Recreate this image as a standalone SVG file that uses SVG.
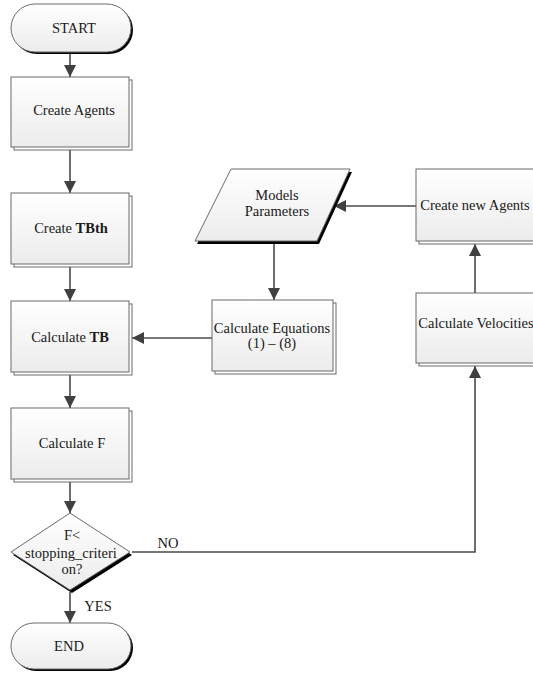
<svg xmlns="http://www.w3.org/2000/svg" width="533" height="677" viewBox="0 0 533 677">
<style>
.t{font-family:'Liberation Serif','Times New Roman','DejaVu Serif',serif;font-size:14.5px;fill:#1a1a1a;text-anchor:middle}
.b{font-weight:bold}
.box{fill:url(#g);stroke:#6a6a6a;stroke-width:1}
.back{fill:#fff;stroke:#6a6a6a;stroke-width:1}
.sh{fill:#000}
.c{fill:none;stroke:#4a4a4a;stroke-width:1.6}
</style>
<defs>
<linearGradient id="g" x1="0" y1="0" x2="0" y2="1">
<stop offset="0" stop-color="#ffffff"/>
<stop offset="1" stop-color="#ececec"/>
</linearGradient>
<marker id="a" markerUnits="userSpaceOnUse" markerWidth="12" markerHeight="12" viewBox="0 0 12 12" refX="12" refY="6" orient="auto">
<path d="M0,0 L12,6 L0,12 Z" fill="#404040"/>
</marker>
</defs>
<g id="connectors">
<line class="c" x1="70" y1="54" x2="70" y2="77" marker-end="url(#a)"/>
<line class="c" x1="70" y1="150" x2="70" y2="193" marker-end="url(#a)"/>
<line class="c" x1="70" y1="267" x2="70" y2="301" marker-end="url(#a)"/>
<line class="c" x1="70" y1="375" x2="70" y2="408" marker-end="url(#a)"/>
<line class="c" x1="70" y1="482" x2="70" y2="513" marker-end="url(#a)"/>
<line class="c" x1="70" y1="592" x2="70" y2="623" marker-end="url(#a)"/>
<polyline class="c" points="132,552 475,552 475,366" marker-end="url(#a)"/>
<line class="c" x1="475" y1="293" x2="475" y2="244" marker-end="url(#a)"/>
<line class="c" x1="416" y1="206" x2="334" y2="206" marker-end="url(#a)"/>
<line class="c" x1="274" y1="244" x2="274" y2="300" marker-end="url(#a)"/>
<line class="c" x1="212" y1="338" x2="132" y2="338" marker-end="url(#a)"/>
<text class="t" x="168" y="548" font-family="Liberation Serif, serif">NO</text>
<text class="t" x="98" y="611" font-family="Liberation Serif, serif">YES</text>
</g>
<g id="start">
<rect class="sh" x="13" y="6" width="120" height="48" rx="24"/>
<rect class="box" x="11" y="4" width="120" height="48" rx="24"/>
<text class="t" x="74" y="33">START</text>
</g>
<g id="create-agents">
<rect class="back" x="14" y="80" width="118" height="70"/>
<rect class="box" x="11" y="77" width="118" height="70"/>
<text class="t" x="74" y="115">Create Agents</text>
</g>
<g id="create-tbth">
<rect class="back" x="14" y="196" width="118" height="71"/>
<rect class="box" x="11" y="193" width="118" height="71"/>
<text class="t" x="71" y="233">Create <tspan class="b">TBth</tspan></text>
</g>
<g id="calculate-tb">
<rect class="back" x="14" y="304" width="118" height="71"/>
<rect class="box" x="11" y="301" width="118" height="71"/>
<text class="t" x="70" y="342">Calculate <tspan class="b">TB</tspan></text>
</g>
<g id="calculate-f">
<rect class="back" x="14" y="411" width="118" height="71"/>
<rect class="box" x="11" y="408" width="118" height="71"/>
<text class="t" x="72" y="448">Calculate F</text>
</g>
<g id="decision">
<polygon class="sh" points="72,516 132,555 72,593 13,555"/>
<polygon class="box" points="70,513 130,552 70,590 11,552"/>
<text class="t" x="72" y="540">F&lt;</text>
<text class="t" x="71" y="558">stopping_criteri</text>
<text class="t" x="72" y="574">on?</text>
</g>
<g id="end">
<rect class="sh" x="13" y="625" width="120" height="46" rx="23"/>
<rect class="box" x="11" y="623" width="120" height="46" rx="23"/>
<text class="t" x="69" y="651">END</text>
</g>
<g id="models-parameters">
<polygon class="sh" points="233,172 352,172 319,244 197,244"/>
<polygon class="box" points="231,169 350,169 317,241 195,241"/>
<text class="t" x="277" y="200">Models</text>
<text class="t" x="277" y="216">Parameters</text>
</g>
<g id="calculate-equations">
<rect class="back" x="215" y="303" width="121" height="71"/>
<rect class="box" x="212" y="300" width="121" height="71"/>
<text class="t" x="272" y="333">Calculate Equations</text>
<text class="t" x="272" y="348">(1) – (8)</text>
</g>
<g id="create-new-agents">
<rect class="back" x="419" y="172" width="118" height="72"/>
<rect class="box" x="416" y="169" width="118" height="72"/>
<text class="t" x="475" y="210">Create new Agents</text>
</g>
<g id="calculate-velocities">
<rect class="back" x="419" y="296" width="118" height="70"/>
<rect class="box" x="416" y="293" width="118" height="70"/>
<text class="t" x="476" y="328">Calculate Velocities</text>
</g>
</svg>
